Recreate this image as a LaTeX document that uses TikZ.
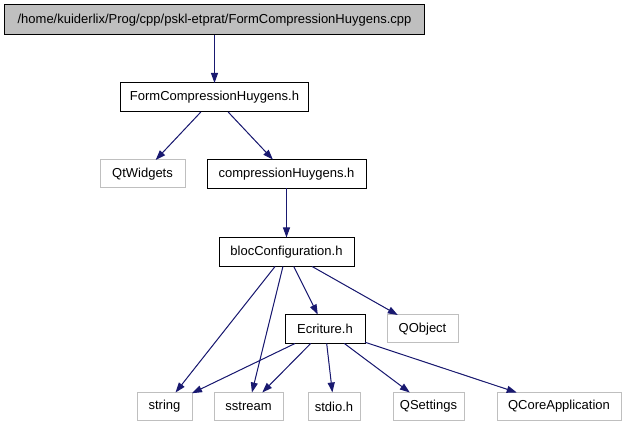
\documentclass[tikz,border=0pt]{standalone}
\usepackage{fontspec}
\setmainfont{Liberation Sans}
\usepackage{xcolor}
\usepackage{tikz}
\usetikzlibrary{arrows.meta,positioning}
\definecolor{edgeblue}{HTML}{191970}
\definecolor{extgray}{HTML}{BFBFBF}

\begin{document}
\begin{tikzpicture}[x=1pt, y=-1pt, font=\fontsize{13}{15}\selectfont, box/.style={draw=black, line width=1pt, minimum height=29pt, inner sep=0pt, outer sep=0pt}, ext/.style={draw=extgray, line width=1pt, minimum height=28pt, inner sep=0pt, outer sep=0pt}, arr/.style={-{Triangle[length=10pt,width=7pt]}, draw=edgeblue, fill=edgeblue, line width=1pt}]
\useasboundingbox (0,0) rectangle (625,427);
\node[box, fill=extgray, minimum width=420pt, minimum height=30pt] (cpp) at (214.5,20) {/home/kuiderlix/Prog/cpp/pskl-etprat/FormCompressionHuygens.cpp};
\node[box, minimum width=188pt] (formh) at (214.5,97.5) {FormCompressionHuygens.h};
\node[box, minimum width=159pt] (comph) at (286.5,174) {compressionHuygens.h};
\node[ext, minimum width=85pt, left=22pt of comph] (qtw) {QtWidgets};
\node[box, minimum width=135pt] (bloch) at (286.5,252) {blocConfiguration.h};
\node[box, minimum width=80pt] (ecrh) at (325,329) {Ecriture.h};
\node[ext, minimum width=71pt, right=22pt of ecrh] (qobj) {QObject};
\node[ext, minimum width=55pt] (str) at (164.5,406.5) {string};
\node[ext, minimum width=69pt, right=22pt of str] (sstr) {sstream};
\node[ext, minimum width=52pt, right=25pt of sstr] (stdio) {stdio.h};
\node[ext, minimum width=71pt, right=33pt of stdio] (qset) {QSettings};
\node[ext, minimum width=124pt, right=33pt of qset] (qcore) {QCoreApplication};
\draw[arr] (cpp) -- (formh);
\draw[arr] (formh) -- (qtw);
\draw[arr] (formh) -- (comph);
\draw[arr] (comph) -- (bloch);
\draw[arr] (bloch) -- (str);
\draw[arr] (bloch) -- (sstr);
\draw[arr] (bloch) -- (ecrh);
\draw[arr] (bloch) -- (qobj);
\draw[arr] (ecrh) -- (str);
\draw[arr] (ecrh) -- (sstr);
\draw[arr] (ecrh) -- (stdio);
\draw[arr] (ecrh) -- (qset);
\draw[arr] (ecrh) -- (qcore);
\end{tikzpicture}
\end{document}
